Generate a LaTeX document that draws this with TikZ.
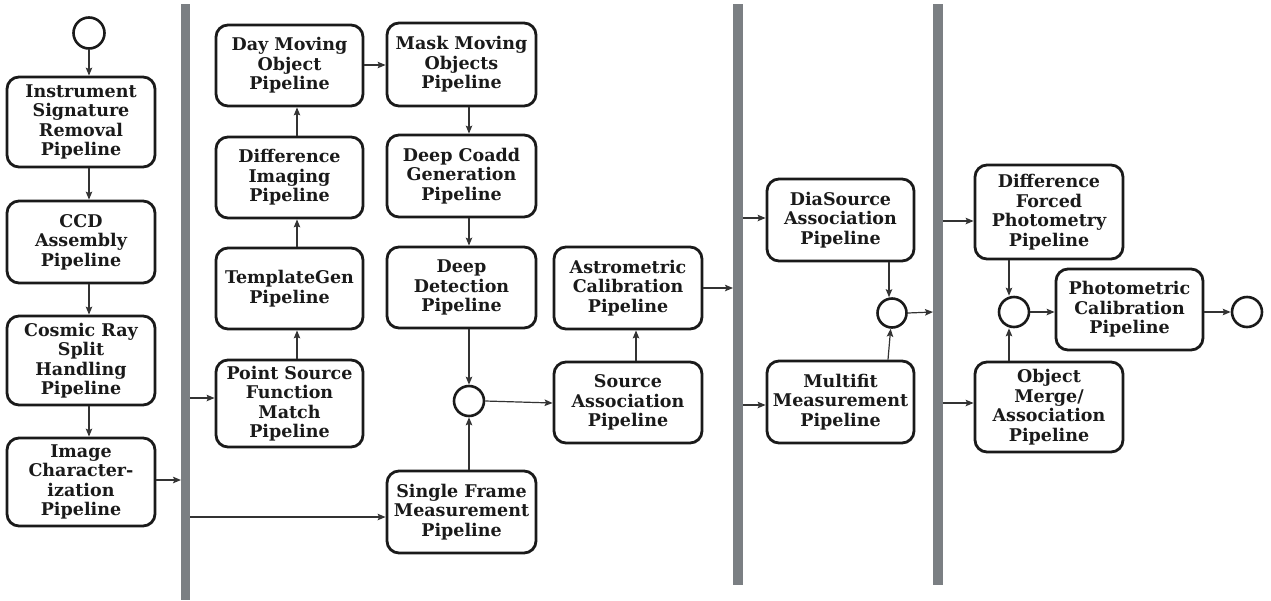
\documentclass[tikz,border=0pt]{standalone}
\usepackage{fontspec}
\setmainfont{DejaVu Serif}
\usetikzlibrary{arrows.meta}
\definecolor{bargray}{HTML}{7B7F83}
\definecolor{ink}{HTML}{1A1A1A}
\definecolor{arrink}{HTML}{333333}
\tikzset{
  box/.style={draw=ink, line width=2.8pt, rounded corners=12pt, inner sep=0pt,
    align=center, font=\fontsize{17.5}{19.5}\selectfont\bfseries, text=ink},
  junc/.style={draw=ink, line width=2.6pt, circle, inner sep=0pt},
  arr/.style={draw=arrink, line width=1.2pt, -{Stealth[length=8pt,width=6.5pt,inset=1.5pt]}},
}
\begin{document}
\begin{tikzpicture}[x=1pt,y=-1pt]
\useasboundingbox (0,0) rectangle (1271,600);
% swimlane bars
\fill[bargray] (181,4) rectangle (190,600);
\fill[bargray] (733,4) rectangle (743,585);
\fill[bargray] (933,4) rectangle (943,585);
% column 1
\node[junc, minimum size=31pt] (start) at (89,33) {};
\node[box, minimum width=148pt, minimum height=90pt] (isr) at (81,122) {Instrument\\Signature\\Removal\\Pipeline};
\node[box, minimum width=148pt, minimum height=82pt] (ccd) at (81,242) {CCD\\Assembly\\Pipeline};
\node[box, minimum width=148pt, minimum height=89pt] (crs) at (81,360.5) {Cosmic Ray\\Split\\Handling\\Pipeline};
\node[box, minimum width=148pt, minimum height=88pt] (ic) at (81,482) {Image\\Character-\\ization\\Pipeline};
% column 2
\node[box, minimum width=147pt, minimum height=81pt] (dmo) at (289.5,65.5) {Day Moving\\Object\\Pipeline};
\node[box, minimum width=147pt, minimum height=81pt] (dip) at (289.5,177.5) {Difference\\Imaging\\Pipeline};
\node[box, minimum width=147pt, minimum height=81pt] (tg) at (289.5,288.5) {TemplateGen\\Pipeline};
\node[box, minimum width=147pt, minimum height=87pt] (psf) at (289.5,403.5) {Point Source\\Function\\Match\\Pipeline};
% column 3
\node[box, minimum width=149pt, minimum height=83pt] (mmo) at (461.5,64.5) {Mask Moving\\Objects\\Pipeline};
\node[box, minimum width=149pt, minimum height=82pt] (dcg) at (461.5,176) {Deep Coadd\\Generation\\Pipeline};
\node[box, minimum width=149pt, minimum height=81pt] (dd) at (461.5,287.5) {Deep\\Detection\\Pipeline};
\node[junc, minimum size=30pt] (j1) at (469,401) {};
\node[box, minimum width=149pt, minimum height=82pt] (sfm) at (461.5,512) {Single Frame\\Measurement\\Pipeline};
% column 4
\node[box, minimum width=148pt, minimum height=82pt] (ac) at (628,288) {Astrometric\\Calibration\\Pipeline};
\node[box, minimum width=148pt, minimum height=81pt] (sa) at (628,402.5) {Source\\Association\\Pipeline};
% column 5
\node[box, minimum width=147pt, minimum height=82pt] (dsa) at (840.5,220) {DiaSource\\Association\\Pipeline};
\node[box, minimum width=147pt, minimum height=82pt] (mm) at (840.5,402) {Multifit\\Measurement\\Pipeline};
\node[junc, minimum size=29pt] (j2) at (892,313) {};
% column 6
\node[box, minimum width=148pt, minimum height=94pt] (dfp) at (1049,212) {Difference\\Forced\\Photometry\\Pipeline};
\node[box, minimum width=148pt, minimum height=90pt] (oma) at (1049,407) {Object\\Merge/\\Association\\Pipeline};
\node[junc, minimum size=30pt] (j3) at (1014,312) {};
\node[box, minimum width=147pt, minimum height=81pt] (pc) at (1129.5,309.5) {Photometric\\Calibration\\Pipeline};
\node[junc, minimum size=30pt] (end) at (1247,312) {};
% bar anchor coordinates
\coordinate (b1in) at (181,480);
\coordinate (b1o1) at (190,398);
\coordinate (b1o2) at (190,517);
\coordinate (b2in) at (733,288);
\coordinate (b2o1) at (743,218);
\coordinate (b2o2) at (743,405);
\coordinate (b3in) at (933,312);
\coordinate (b3o1) at (943,221);
\coordinate (b3o2) at (943,403);
\coordinate (c1) at (89,0);
\coordinate (c2) at (297,0);
\coordinate (c3) at (469,0);
\coordinate (c4) at (636,0);
\coordinate (c5) at (889,0);
\coordinate (c6) at (1009,0);
% connectors column 1
\draw[arr] (start) -- (isr.north -| start);
\draw[arr] (isr.south -| c1) -- (ccd.north -| c1);
\draw[arr] (ccd.south -| c1) -- (crs.north -| c1);
\draw[arr] (crs.south -| c1) -- (ic.north -| c1);
\draw[arr] (ic.east |- b1in) -- (b1in);
\draw[arr] (b1o1) -- (psf.west |- b1o1);
\draw[arr] (b1o2) -- (sfm.west |- b1o2);
% column 2
\draw[arr] (psf.north -| c2) -- (tg.south -| c2);
\draw[arr] (tg.north -| c2) -- (dip.south -| c2);
\draw[arr] (dip.north -| c2) -- (dmo.south -| c2);
\draw[arr] (dmo.east |- 0,65) -- (mmo.west |- 0,65);
% column 3
\draw[arr] (mmo.south -| c3) -- (dcg.north -| c3);
\draw[arr] (dcg.south -| c3) -- (dd.north -| c3);
\draw[arr] (dd.south -| c3) -- (j1);
\draw[arr] (sfm.north -| c3) -- (j1);
\draw[arr] (j1.east) -- (sa.west |- 0,403);
% column 4
\draw[arr] (sa.north -| c4) -- (ac.south -| c4);
\draw[arr] (ac.east |- b2in) -- (b2in);
% column 5
\draw[arr] (b2o1) -- (dsa.west |- b2o1);
\draw[arr] (b2o2) -- (mm.west |- b2o2);
\draw[arr] (dsa.south -| c5) -- (j2.north -| c5);
\draw[arr] (mm.north -| 888,0) -- (j2);
\draw[arr] (j2.east) -- (b3in);
% column 6
\draw[arr] (b3o1) -- (dfp.west |- b3o1);
\draw[arr] (b3o2) -- (oma.west |- b3o2);
\draw[arr] (dfp.south -| c6) -- (j3.north -| c6);
\draw[arr] (oma.north -| c6) -- (j3.south -| c6);
\draw[arr] (j3.east) -- (pc.west |- j3);
\draw[arr] (pc.east |- end) -- (end.west);
\end{tikzpicture}
\end{document}
